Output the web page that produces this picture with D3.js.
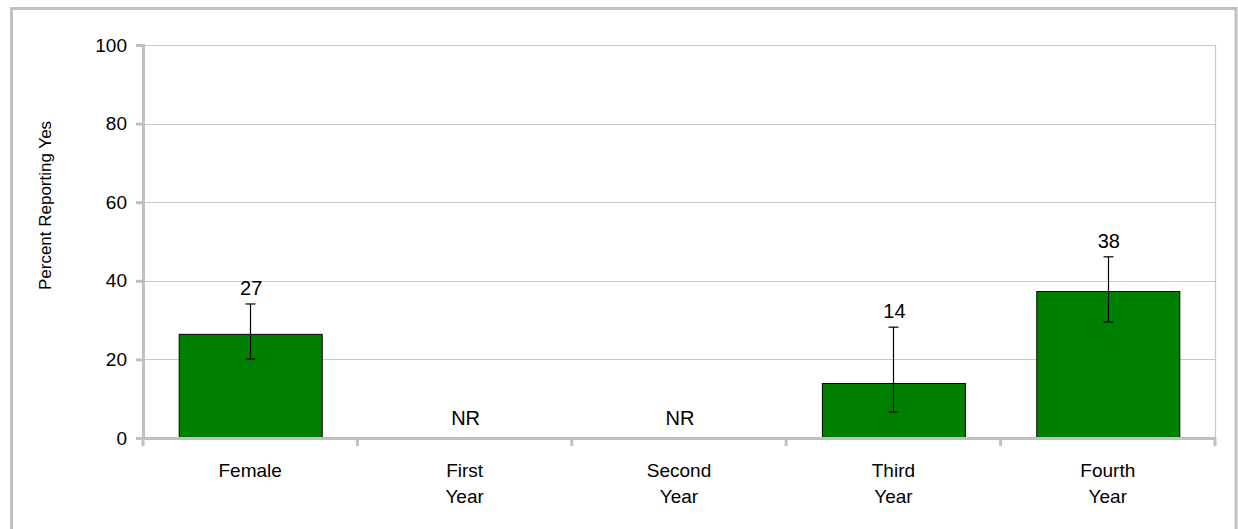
<!DOCTYPE html>
<html>
<head>
<meta charset="utf-8">
<script src="https://cdn.jsdelivr.net/npm/d3@7"></script>
<style>
  html, body { margin: 0; padding: 0; background: #fff; }
  svg { display: block; font-family: "Liberation Sans", Arial, sans-serif; }
</style>
</head>
<body>
<svg id="chart" width="1238" height="529"></svg>
<script>
const categories = [["Female"], ["First", "Year"], ["Second", "Year"], ["Third", "Year"], ["Fourth", "Year"]];
const values = [26.5, null, null, 14.0, 37.4];
const errLow = [20.1, null, null, 6.6, 29.5];
const errHigh = [34.1, null, null, 28.2, 46.1];
const valueLabels = ["27", "NR", "NR", "14", "38"];
const yTicks = [0, 20, 40, 60, 80, 100];
const yTitle = "Percent Reporting Yes";

const svg = d3.select("#chart");
const m = { left: 143, right: 1215, top: 45, bottom: 438 };

// outer frame
svg.append("rect")
  .attr("x", 11.5).attr("y", 8.5)
  .attr("width", 1224.5).attr("height", 560)
  .attr("fill", "none").attr("stroke", "#c0c0c0").attr("stroke-width", 3);

const x = d3.scaleBand()
  .domain(d3.range(categories.length))
  .range([m.left, m.right])
  .paddingInner(0.333).paddingOuter(0.1665);

const xb = d3.scaleBand().domain(d3.range(categories.length)).range([m.left, m.right]);

const y = d3.scaleLinear().domain([0, 100]).range([m.bottom, m.top]);

// gridlines
svg.append("g").selectAll("line").data(yTicks.filter(t => t > 0)).join("line")
  .attr("x1", m.left).attr("x2", m.right)
  .attr("y1", d => Math.round(y(d)) + 0.5).attr("y2", d => Math.round(y(d)) + 0.5)
  .attr("stroke", "#c8c8c8").attr("stroke-width", 1.2);

// right plot border
svg.append("line")
  .attr("x1", m.right + 0.5).attr("x2", m.right + 0.5)
  .attr("y1", y(100)).attr("y2", m.bottom)
  .attr("stroke", "#c8c8c8").attr("stroke-width", 1.2);

// y axis
const yAxis = d3.axisLeft(y).tickValues(yTicks).tickSize(7).tickPadding(9);
const gy = svg.append("g").attr("transform", `translate(${m.left},0)`).call(yAxis);
gy.select(".domain").attr("stroke", "#c0c0c0").attr("stroke-width", 3);
gy.selectAll(".tick line").attr("stroke", "#c0c0c0").attr("stroke-width", 3);
gy.selectAll(".tick text").attr("font-size", 19).attr("fill", "#000")
  .attr("font-family", "Liberation Sans, Arial, sans-serif");

// bars
svg.append("g").selectAll("rect").data(values.map((v, i) => ({ v, i }))).join("rect")
  .filter(d => d.v !== null)
  .attr("x", d => x(d.i) + 0.5)
  .attr("y", d => y(d.v) + 0.5)
  .attr("width", x.bandwidth())
  .attr("height", d => y(0) - y(d.v))
  .attr("fill", "#008000").attr("stroke", "#000").attr("stroke-width", 1);

// x axis
const xAxis = d3.axisBottom(xb).tickSize(0).tickFormat("");
const gx = svg.append("g").attr("transform", `translate(0,${m.bottom})`).call(xAxis);
gx.select(".domain").attr("stroke", "#c0c0c0").attr("stroke-width", 3);
const bounds = d3.range(categories.length + 1).map(i => i === categories.length ? m.right : xb(i));
svg.append("g").selectAll("line").data(bounds).join("line")
  .attr("x1", d => d).attr("x2", d => d)
  .attr("y1", m.bottom).attr("y2", m.bottom + 8)
  .attr("stroke", "#c0c0c0").attr("stroke-width", 3);

// category labels
const cl = svg.append("g").selectAll("text").data(categories.map((c, i) => ({ c, i }))).join("text")
  .attr("x", d => xb(d.i) + xb.bandwidth() / 2)
  .attr("y", 477)
  .attr("text-anchor", "middle").attr("font-size", 19).attr("fill", "#000");
cl.selectAll("tspan").data(d => d.c).join("tspan")
  .attr("x", function () { return d3.select(this.parentNode).attr("x"); })
  .attr("dy", (d, j) => j === 0 ? 0 : 26)
  .text(d => d);

// error bars
const eb = svg.append("g").selectAll("g").data(values.map((v, i) => ({ v, i }))
  .filter(d => d.v !== null)).join("g");
const cx = d => Math.round(xb(d.i) + xb.bandwidth() / 2) + 0.5;
eb.append("line").attr("x1", cx).attr("x2", cx)
  .attr("y1", d => y(errLow[d.i])).attr("y2", d => y(errHigh[d.i]))
  .attr("stroke", "#000").attr("stroke-width", 1.2);
[errLow, errHigh].forEach(arr => {
  eb.append("line").attr("x1", d => cx(d) - 5).attr("x2", d => cx(d) + 5)
    .attr("y1", d => y(arr[d.i])).attr("y2", d => y(arr[d.i]))
    .attr("stroke", "#000").attr("stroke-width", 1.2);
});

// value labels
svg.append("g").selectAll("text").data(valueLabels.map((t, i) => ({ t, i }))).join("text")
  .attr("x", d => xb(d.i) + xb.bandwidth() / 2 + 1)
  .attr("y", d => values[d.i] === null ? y(0) - 13 : y(errHigh[d.i]) - 9)
  .attr("text-anchor", "middle").attr("font-size", 20).attr("fill", "#000")
  .text(d => d.t);

// y title
svg.append("text")
  .attr("transform", `translate(51,${(m.top + m.bottom) / 2 - 36}) rotate(-90)`)
  .attr("text-anchor", "middle").attr("font-size", 17).attr("fill", "#000")
  .text(yTitle);
</script>
</body>
</html>
